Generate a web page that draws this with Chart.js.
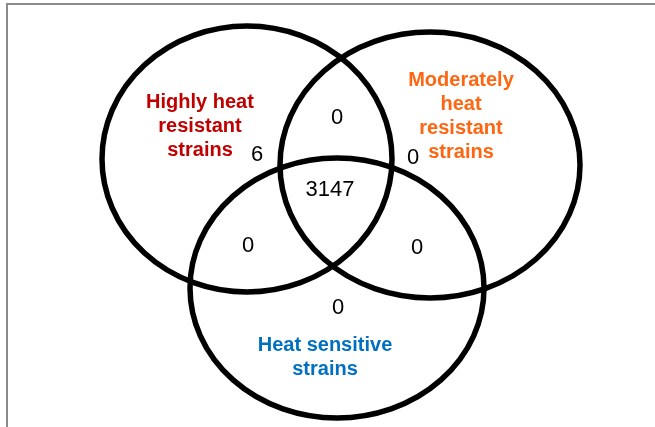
<!DOCTYPE html>
<html>
<head>
<meta charset="utf-8">
<script src="https://cdn.jsdelivr.net/npm/chart.js@4"></script>
<style>
  html, body { margin: 0; padding: 0; background: #fff; }
  #wrap { position: relative; width: 655px; height: 427px; overflow: hidden; }
  #frame { position: absolute; left: 6px; top: 3px; right: -10px; bottom: -10px;
           border-top: 2px solid #8a8a8a; border-left: 2px solid #8a8a8a; }
  #vennChart { position: absolute; left: 0; top: 0; }
</style>
</head>
<body>
<div id="wrap">
  <div id="frame"></div>
  <canvas id="vennChart" width="655" height="427"></canvas>
</div>
<script>
// sets of the diagram
const setNames = [
    ['Highly heat', 'resistant', 'strains'],
    ['Moderately', 'heat', 'resistant', 'strains'],
    ['Heat sensitive', 'strains']
];
const setColors = ['#C00000', '#FF6611', '#0070C0'];

// counts per region: H only, M only, S only, H&M, H&S, M&S, all three
const regionNames = ['H', 'M', 'S', 'HM', 'HS', 'MS', 'HMS'];
const regionCounts = [6, 0, 0, 0, 0, 0, 3147];

// layout (in the chart's own units, x 0..655, y 0..427 from the top)
const setShapes = [
    { x: 247, y: 159, rx: 145, ry: 133 },
    { x: 430, y: 165, rx: 150, ry: 133 },
    { x: 337, y: 288, rx: 147, ry: 130 }
];
const setLabelPos = [
    { x: 200, y: 102 },
    { x: 461, y: 80 },
    { x: 325, y: 345 }
];
const regionPos = [
    { x: 257, y: 155 },
    { x: 413, y: 158 },
    { x: 338, y: 308 },
    { x: 337, y: 118 },
    { x: 248, y: 246 },
    { x: 417, y: 248 },
    { x: 330, y: 190 }
];

var ctx = document.getElementById('vennChart').getContext('2d');

const vennPlugin = {
    id: 'venn',
    afterDatasetsDraw(chart) {
        const c = chart.ctx;
        const xs = chart.scales.x;
        const ys = chart.scales.y;

        // circles
        const shapeMeta = chart.getDatasetMeta(0);
        c.save();
        c.lineWidth = 5.5;
        c.strokeStyle = '#000';
        shapeMeta.data.forEach((pt, i) => {
            const s = setShapes[i];
            const rx = Math.abs(xs.getPixelForValue(s.x + s.rx) - pt.x);
            const ry = Math.abs(ys.getPixelForValue(s.y + s.ry) - pt.y);
            c.beginPath();
            c.ellipse(pt.x, pt.y, rx, ry, 0, 0, Math.PI * 2);
            c.stroke();
        });

        // set names
        const nameMeta = chart.getDatasetMeta(1);
        c.font = 'bold 20px "Liberation Sans", Arial, sans-serif';
        c.textAlign = 'center';
        c.textBaseline = 'middle';
        nameMeta.data.forEach((pt, i) => {
            c.fillStyle = setColors[i];
            setNames[i].forEach((line, j) => {
                c.fillText(line, pt.x, pt.y + j * 24);
            });
        });

        // region counts
        const countMeta = chart.getDatasetMeta(2);
        c.font = '22px "Liberation Sans", Arial, sans-serif';
        c.fillStyle = '#000';
        countMeta.data.forEach((pt, i) => {
            c.fillText(String(regionCounts[i]), pt.x, pt.y);
        });
        c.restore();
    }
};

const data = {
    datasets: [
        {
            label: 'Sets',
            data: setShapes.map(s => ({ x: s.x, y: s.y })),
            pointRadius: 0
        },
        {
            label: 'Set names',
            data: setLabelPos.map(p => ({ x: p.x, y: p.y })),
            pointRadius: 0
        },
        {
            label: 'Counts',
            data: regionPos.map((p, i) => ({ x: p.x, y: p.y, region: regionNames[i] })),
            pointRadius: 0
        }
    ]
};

const options = {
    responsive: false,
    animation: false,
    layout: { padding: 0 },
    scales: {
        x: { type: 'linear', min: 0, max: 655, display: false },
        y: { type: 'linear', min: 0, max: 427, reverse: true, display: false }
    },
    plugins: {
        legend: { display: false },
        tooltip: { enabled: false }
    }
};

var vennChart = new Chart(ctx, {
    type: 'scatter',
    data: data,
    options: options,
    plugins: [vennPlugin]
});
</script>
</body>
</html>
